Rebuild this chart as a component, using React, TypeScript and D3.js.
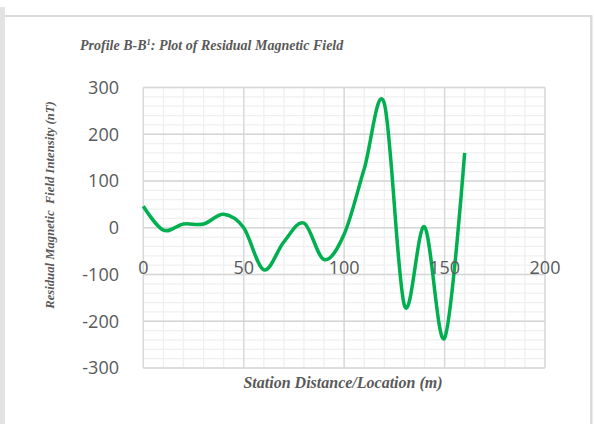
import React from "react";
import * as d3 from "d3";

const stations = [0, 10, 20, 30, 40, 50, 60, 70, 80, 90, 100, 110, 120, 130, 140, 150, 160];
const residual = [46, -5, 8, 8, 29, 0, -90, -30, 10, -68, -14, 126, 266, -166, 2, -236, 160];
const xTicks = [0, 50, 100, 150, 200];
const yTicks = [-300, -200, -100, 0, 100, 200, 300];

const W = 594, H = 424;
const L = 143.3, R = 545, T = 87.5, B = 368;

export default function App() {
  const x = d3.scaleLinear().domain([0, 200]).range([L, R]);
  const y = d3.scaleLinear().domain([-300, 300]).range([B, T]);
  const xMinor = d3.range(0, 201, 10);
  const yMinor = d3.range(-300, 301, 20);
  const line = d3
    .line<number>()
    .x((_, i) => x(stations[i]))
    .y((d) => y(d))
    .curve(d3.curveCardinal.tension(0));
  const serif = "'Liberation Serif', 'Times New Roman', serif";
  const sans = "'Open Sans', 'Noto Sans', sans-serif";
  return (
    <svg width={W} height={H} style={{ position: "absolute", left: 0, top: 0, background: "#fff" }}>
      <rect x={0} y={7} width={5} height={H - 7} fill="#e3e3e3" />
      <rect x={5} y={15} width={587} height={2} fill="#dadada" />
      <rect x={590} y={15} width={2.5} height={H - 15} fill="#dadada" />
      <text x={80} y={50} fontFamily={serif} fontStyle="italic" fontWeight="bold" fontSize={14} fill="#595959">
        Profile B-B<tspan fontSize={8.5} dy={-5.5}>1</tspan><tspan dy={5.5}>: Plot of Residual Magnetic Field</tspan>
      </text>
      {xMinor.map((v) => (
        <line key={"xm" + v} x1={x(v)} x2={x(v)} y1={T} y2={B} stroke="#efefef" strokeWidth={1.3} />
      ))}
      {yMinor.map((v) => (
        <line key={"ym" + v} x1={L} x2={R} y1={y(v)} y2={y(v)} stroke="#efefef" strokeWidth={1.3} />
      ))}
      {xTicks.map((v) => (
        <line key={"xg" + v} x1={x(v)} x2={x(v)} y1={T} y2={B} stroke="#d6d6d6" strokeWidth={1.3} />
      ))}
      {yTicks.map((v) => (
        <line key={"yg" + v} x1={L} x2={R} y1={y(v)} y2={y(v)} stroke="#d6d6d6" strokeWidth={1.3} />
      ))}
      <path d={line(residual) || ""} fill="none" stroke="#00b050" strokeWidth={3.5} strokeLinejoin="round" />
      {yTicks.map((v) => (
        <text key={"yl" + v} x={119} y={y(v)} dy="0.36em" textAnchor="end" fontFamily={sans} fontSize={18} fill="#595959">
          {v}
        </text>
      ))}
      {xTicks.map((v) => (
        <text key={"xl" + v} x={x(v)} y={274} textAnchor="middle" fontFamily={sans} fontSize={18} fill="#595959">
          {v}
        </text>
      ))}
      <text x={343} y={388} textAnchor="middle" fontFamily={serif} fontStyle="italic" fontWeight="bold" fontSize={16} fill="#595959">
        Station Distance/Location (m)
      </text>
      <text
        transform={`translate(54,205) rotate(-90)`}
        textAnchor="middle"
        fontFamily={serif}
        fontStyle="italic"
        fontWeight="bold"
        fontSize={12.7}
        fill="#595959"
        style={{ whiteSpace: "pre" }}
      >
        {"Residual Magnetic  Field Intensity (nT)"}
      </text>
    </svg>
  );
}
